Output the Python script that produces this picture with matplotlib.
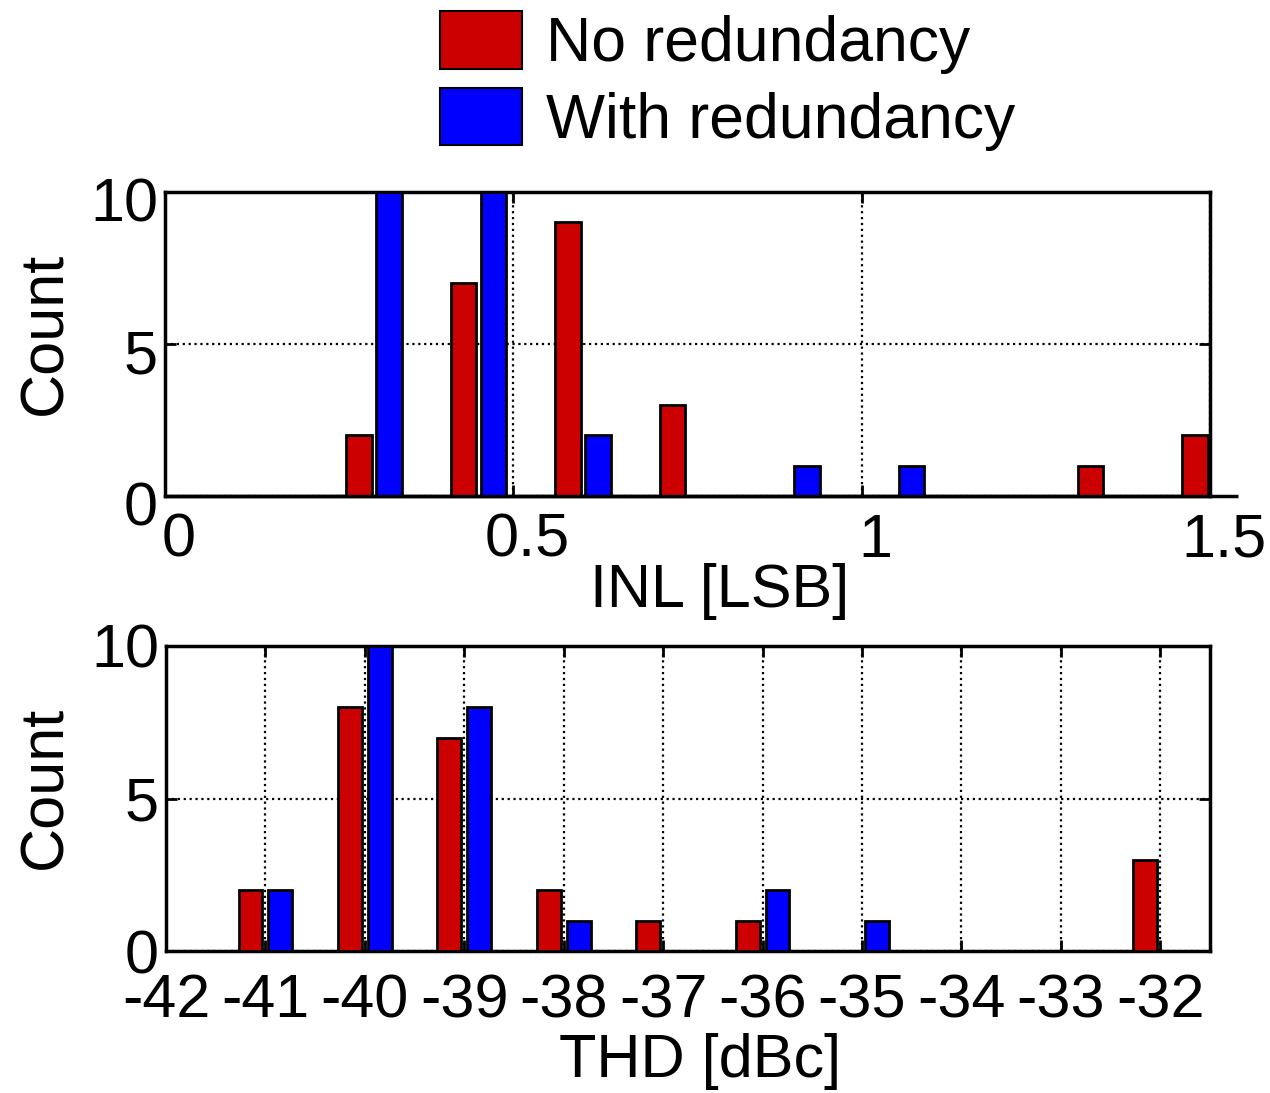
import matplotlib
matplotlib.use('Agg')
import numpy as np
import matplotlib.pyplot as plt
from matplotlib.patches import Patch
from matplotlib.transforms import ScaledTranslation

# histogram data
inl_bins = [0.3, 0.45, 0.6, 0.75, 0.9, 1.05, 1.2, 1.35, 1.5]
inl_no_red = [2, 7, 9, 3, 0, 0, 0, 1, 2]
inl_with_red = [10, 10, 2, 0, 1, 1, 0, 0, 0]

thd_bins = [-41, -40, -39, -38, -37, -36, -35, -34, -33, -32]
thd_no_red = [2, 8, 7, 2, 1, 1, 0, 0, 0, 3]
thd_with_red = [2, 10, 8, 1, 0, 2, 1, 0, 0, 0]

labels = ['No redundancy', 'With redundancy']
colors = ['#cc0000', '#0000ff']

inl_ticks = [0, 0.5, 1, 1.5]
thd_ticks = list(range(-42, -31))
count_ticks = [0, 5, 10]

plt.rcParams['font.family'] = ['Liberation Sans', 'DejaVu Sans']
plt.rcParams['font.size'] = 44
plt.rcParams['axes.unicode_minus'] = False

W, H = 1270, 1093
fig = plt.figure(figsize=(W / 100, H / 100), dpi=100)

ax1 = fig.add_axes([165 / W, 1 - 496 / H, 1045 / W, 304 / H])
ax2 = fig.add_axes([166 / W, 1 - 951 / H, 1044 / W, 305 / H])


def draw_hist(ax, bins, a, b, width, off):
    x = np.array(bins, dtype=float)
    ax.bar(x - off, a, width=width, color=colors[0], edgecolor='k',
           linewidth=2, zorder=3)
    ax.bar(x + off, b, width=width, color=colors[1], edgecolor='k',
           linewidth=2, zorder=3)
    ax.set_axisbelow(True)
    ax.grid(True, color='k', linestyle=':', linewidth=1.6)
    ax.set_ylim(0, 10)
    ax.set_yticks(count_ticks)
    for s in ax.spines.values():
        s.set_linewidth(2.5)
    ax.tick_params(direction='in', length=8, width=2, top=True, right=True,
                   labelsize=44)
    ax.tick_params(axis='y', pad=5)
    ax.tick_params(axis='x', pad=12)


def shift_ylabels(ax, dy):
    for t in ax.yaxis.get_major_ticks():
        t.label1.set_transform(t.label1.get_transform() +
                               ScaledTranslation(0, dy, fig.dpi_scale_trans))


# INL histogram
w1, o1 = 0.037, 0.0215
draw_hist(ax1, inl_bins, inl_no_red, inl_with_red, w1, o1)
ax1.set_xlim(0, 1.5)
ax1.set_xticks(inl_ticks)
ax1.set_xticklabels(['0', '0.5', '1', '1.5'])
# baseline of the bars runs a bit past the axes
ax1.hlines(0, 0, inl_bins[-1] + o1 + w1 / 2, colors='k', lw=2.5,
           clip_on=False, zorder=4)
for t in ax1.xaxis.get_major_ticks():
    t.label1.set_transform(t.label1.get_transform() +
                           ScaledTranslation(0.14, 0, fig.dpi_scale_trans))
shift_ylabels(ax1, -0.08)

# THD histogram
draw_hist(ax2, thd_bins, thd_no_red, thd_with_red, 0.24, 0.15)
ax2.set_xlim(-42, -31.5)
ax2.set_xticks(thd_ticks)
ax2.tick_params(axis='x', pad=16)
shift_ylabels(ax2, 0.0)

fig.text(46 / W, 1 - 333 / H, 'Count', rotation=90, ha='center', va='center')
fig.text(46 / W, 1 - 787 / H, 'Count', rotation=90, ha='center', va='center')
fig.text(720 / W, 1 - 592 / H, 'INL [LSB]', ha='center', va='center')
fig.text(700 / W, 1 - 1062 / H, 'THD [dBc]', ha='center', va='center')

handles = [Patch(facecolor=c, edgecolor='k', linewidth=1.5, label=l)
           for c, l in zip(colors, labels)]
fig.legend(handles=handles, loc='upper left',
           bbox_to_anchor=(440 / W, 1 - 11 / H), frameon=False,
           handlelength=1.31, handleheight=1.04, handletextpad=0.38,
           labelspacing=0.22, borderpad=0, borderaxespad=0, fontsize=45)

fig.savefig('out.png', dpi=100)
